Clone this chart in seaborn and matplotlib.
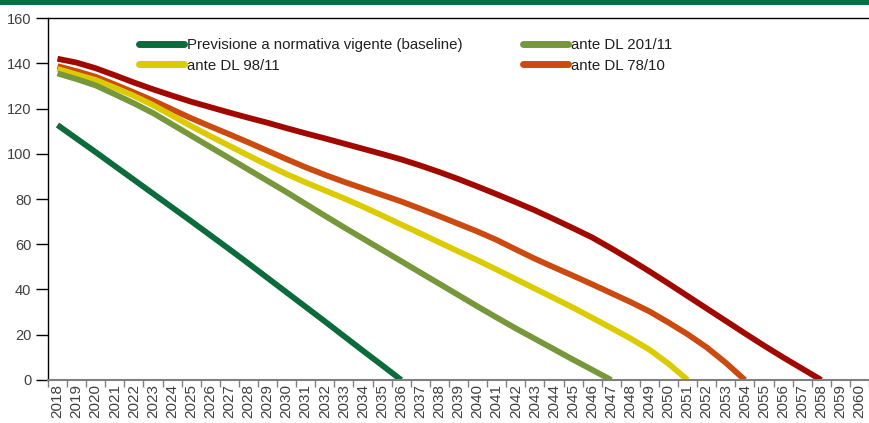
import matplotlib
matplotlib.use("Agg")
import numpy as np
import pandas as pd
import matplotlib.pyplot as plt
from matplotlib.patches import Rectangle
import seaborn as sns

sns.set_theme(style="white")
plt.rcParams['font.family'] = ['Liberation Sans', 'DejaVu Sans']

years = list(range(2018, 2061))

baseline = [112.7, 106.7, 100.7, 94.6, 88.5, 82.4, 76.3, 70.2, 64.0, 57.8,
            51.5, 45.1, 38.7, 32.3, 25.9, 19.4, 12.9, 6.5, 0.0]
dl_201_11 = [135.5, 133.0, 130.2, 126.3, 122.3, 118.0, 113.0, 108.0, 103.0, 98.0,
             93.0, 88.0, 83.0, 77.8, 72.6, 67.5, 62.5, 57.5, 52.5, 47.5,
             42.5, 37.5, 32.5, 27.6, 22.8, 18.2, 13.6, 9.0, 4.5, 0.0]
dl_98_11 = [137.5, 135.0, 132.6, 129.2, 125.6, 121.5, 116.9, 112.2, 107.8, 103.5,
            99.2, 95.0, 91.0, 87.3, 83.8, 80.3, 76.6, 72.7, 68.7, 64.8,
            60.8, 56.8, 52.9, 48.8, 44.6, 40.4, 36.2, 32.0, 27.5, 23.0,
            18.4, 13.4, 7.2, 0.0]
dl_78_10 = [138.7, 136.5, 134.0, 130.6, 127.1, 123.5, 119.6, 115.7, 112.1, 108.6,
            105.0, 101.3, 97.6, 94.0, 90.7, 87.6, 84.7, 81.8, 78.9, 75.7,
            72.4, 69.0, 65.6, 61.9, 57.7, 53.6, 49.8, 46.1, 42.3, 38.4,
            34.5, 30.3, 25.4, 20.2, 14.4, 7.6, 0.0]
red_series = [142.0, 140.3, 137.8, 134.7, 131.5, 128.5, 125.7, 123.0, 120.6, 118.2,
              115.9, 113.7, 111.3, 109.0, 106.8, 104.5, 102.2, 99.9, 97.5, 94.8,
              91.9, 88.8, 85.5, 82.1, 78.6, 75.0, 71.1, 67.1, 63.0, 58.2,
              53.2, 48.0, 42.6, 37.1, 31.6, 26.1, 20.6, 15.2, 10.0, 5.0, 0.0]

series = {
    "Previsione a normativa vigente (baseline)": baseline,
    "ante DL 98/11": dl_98_11,
    "ante DL 201/11": dl_201_11,
    "ante DL 78/10": dl_78_10,
    "_red": red_series,
}
colors = {
    "Previsione a normativa vigente (baseline)": "#0b6b3a",
    "ante DL 98/11": "#dccb00",
    "ante DL 201/11": "#77973b",
    "ante DL 78/10": "#cb4a10",
    "_red": "#a00800",
}
# draw order: red behind, baseline on top
draw_order = ["_red", "ante DL 78/10", "ante DL 98/11", "ante DL 201/11",
              "Previsione a normativa vigente (baseline)"]

fig = plt.figure(figsize=(8.69, 4.23), dpi=100)
ax = fig.add_axes([0.0552, 0.1017, 0.9448, 0.8557])

handles = {}
for name in draw_order:
    vals = series[name]
    df = pd.DataFrame({"year": years[:len(vals)], "value": vals})
    sns.lineplot(data=df, x="year", y="value", ax=ax, color=colors[name],
                 linewidth=4.2, label=name, legend=False,
                 solid_capstyle="butt", solid_joinstyle="round")
    handles[name] = ax.lines[-1]

ax.set_xlim(2017.5, 2060.5)
ax.set_ylim(0, 160)
ax.set_yticks(np.arange(0, 161, 20))
ax.set_xticks(years)
ax.set_xticklabels([str(y) for y in years], rotation=90)
ax.set_xticks(np.arange(2017.5, 2061, 1), minor=True)
ax.set_xlabel("")
ax.set_ylabel("")

ax.tick_params(axis="x", which="major", length=0, pad=3, labelsize=11,
               labelcolor="#404040")
ax.tick_params(axis="x", which="minor", bottom=True, length=5, width=1,
               color="#808080", direction="out")
ax.tick_params(axis="y", left=True, length=9, width=1, color="#000000",
               direction="out", pad=3, labelsize=10.5, labelcolor="#404040")

for side in ["left", "top"]:
    ax.spines[side].set_color("#000000")
    ax.spines[side].set_linewidth(1.0)
ax.spines["bottom"].set_color("#808080")
ax.spines["bottom"].set_linewidth(1.5)
ax.spines["right"].set_visible(False)
ax.grid(False)

legend_order = ["Previsione a normativa vigente (baseline)", "ante DL 98/11",
                "ante DL 201/11", "ante DL 78/10"]
leg = ax.legend([handles[k] for k in legend_order], legend_order, ncol=2,
                loc="upper left", bbox_to_anchor=(0.095, 0.981), frameon=False,
                fontsize=10.8, handlelength=3.0, handletextpad=0.2,
                columnspacing=4.0, labelspacing=0.42)
for line in leg.get_lines():
    line.set_linewidth(5)
    line.set_solid_capstyle("round")
for t in leg.get_texts():
    t.set_color("#202020")

# green band at the top of the figure
fig.add_artist(Rectangle((0, 1 - 5 / 423), 1, 5 / 423, transform=fig.transFigure,
                         facecolor="#087045", edgecolor="none"))

fig.savefig("out.png", dpi=100)
plt.close(fig)
